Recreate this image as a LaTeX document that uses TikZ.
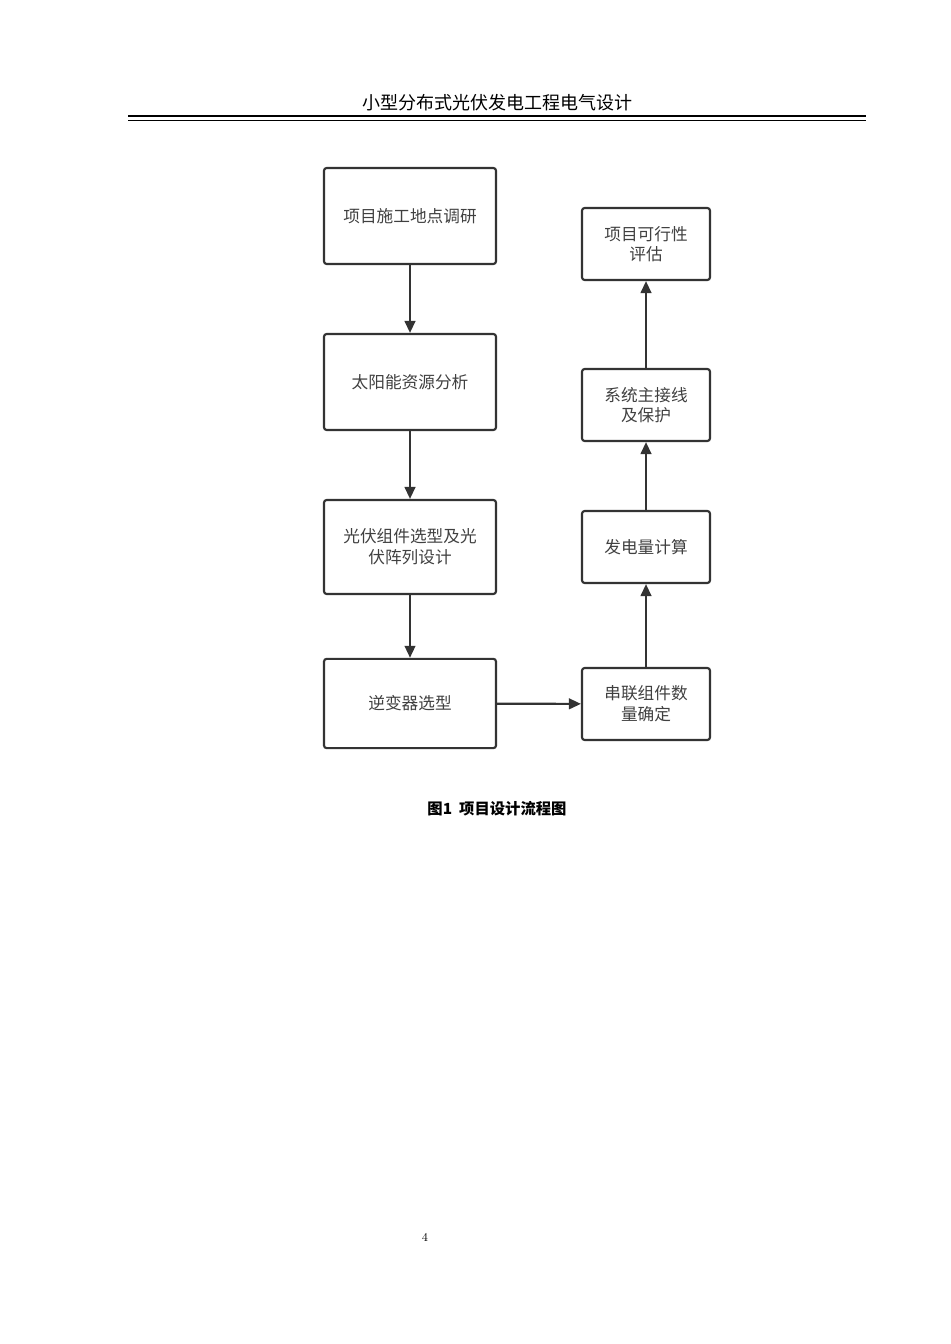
\documentclass[tikz,border=0pt]{standalone}
\usepackage{fontspec}
\newfontfamily\cjk{Noto Sans CJK SC}
\usetikzlibrary{arrows.meta}
\tikzset{
  box/.style={draw=black!80, line width=1.6pt, rounded corners=2pt, align=center,
    font=\cjk\fontsize{12.5}{15.5}\selectfont, text=black!75, inner sep=0pt},
  flow/.style={-{Triangle[length=9pt,width=8pt]}, line width=1.6pt, draw=black!80},
}
\begin{document}
\begin{tikzpicture}[x=0.75pt,y=-0.75pt]
  \useasboundingbox (0,0) rectangle (950,1344);
  % header
  \node[font=\cjk\fontsize{13.5}{16}\selectfont] (head) at (497,103) {小型分布式光伏发电工程电气设计};
  \draw[line width=1.8pt] (128,116) -- (866,116);
  \draw[line width=0.6pt] (128,120.5) -- (866,120.5);
  % left column
  \node[box, minimum width=129pt, minimum height=72pt] (survey) at (410,216) {项目施工地点调研};
  \node[box, minimum width=129pt, minimum height=72pt] (solar) at (410,382) {太阳能资源分析};
  \node[box, minimum width=129pt, minimum height=70.5pt] (pv) at (410,547) {光伏组件选型及光\\伏阵列设计};
  \node[box, minimum width=129pt, minimum height=67pt] (inv) at (410,703.5) {逆变器选型};
  % right column
  \node[box, minimum width=96pt, minimum height=54pt] (series) at (646,704) {串联组件数\\量确定};
  \node[box, minimum width=96pt, minimum height=54pt] (energy) at (646,547) {发电量计算};
  \node[box, minimum width=96pt, minimum height=54pt] (wiring) at (646,405) {系统主接线\\及保护};
  \node[box, minimum width=96pt, minimum height=54pt] (eval) at (646,244) {项目可行性\\评估};
  % connectors
  \draw[flow] (survey) -- (solar);
  \draw[flow] (solar) -- (pv);
  \draw[flow] (pv) -- (inv);
  \draw[flow] (inv) -- (series);
  \draw[flow] (series) -- (energy);
  \draw[flow] (energy) -- (wiring);
  \draw[flow] (wiring) -- (eval);
  % caption and page number
  \node[font=\cjk\bfseries\fontsize{11.5}{14}\selectfont] (cap) at (497,809) {图1\ \ 项目设计流程图};
  \node[font=\fontsize{9}{11}\selectfont] (page) at (425,1237) {4};
\end{tikzpicture}
\end{document}
